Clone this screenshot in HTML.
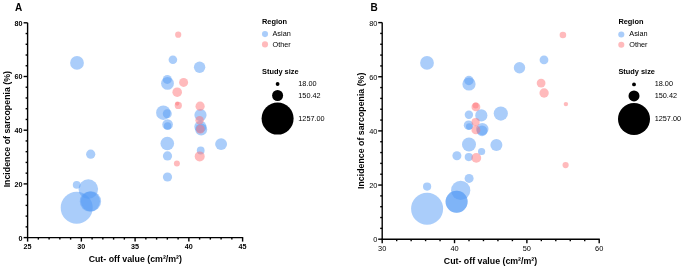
<!DOCTYPE html>
<html><head><meta charset="utf-8"><style>
html,body{margin:0;padding:0;background:#fff;}
body{width:685px;height:269px;overflow:hidden;}
svg{display:block;}
text{font-family:"Liberation Sans",sans-serif;fill:#000;}
svg{will-change:transform;}
.tb{font-size:7.2px;font-weight:bold;}
.tr{font-size:7.4px;}
.lh{font-size:7.4px;font-weight:bold;}
.lt{font-size:7.3px;}
.at{font-size:8.8px;font-weight:bold;}
.pl{font-size:10px;font-weight:bold;}
.ax line{stroke:#000;stroke-width:1.4;}
</style></head><body>
<svg width="685" height="269" viewBox="0 0 685 269">
<text x="14.9" y="10.6" class="pl">A</text>
<text x="370.6" y="10.6" class="pl">B</text>
<g class="ax"><line x1="27.6" y1="22.8" x2="27.6" y2="238.2" />
<line x1="27.0" y1="237.6" x2="243.2" y2="237.6" />
<line x1="23.6" y1="237.60" x2="27.6" y2="237.60" />
<line x1="25.6" y1="226.86" x2="27.6" y2="226.86" />
<line x1="25.6" y1="216.12" x2="27.6" y2="216.12" />
<line x1="25.6" y1="205.38" x2="27.6" y2="205.38" />
<line x1="25.6" y1="194.64" x2="27.6" y2="194.64" />
<line x1="23.6" y1="183.90" x2="27.6" y2="183.90" />
<line x1="25.6" y1="173.16" x2="27.6" y2="173.16" />
<line x1="25.6" y1="162.42" x2="27.6" y2="162.42" />
<line x1="25.6" y1="151.68" x2="27.6" y2="151.68" />
<line x1="25.6" y1="140.94" x2="27.6" y2="140.94" />
<line x1="23.6" y1="130.20" x2="27.6" y2="130.20" />
<line x1="25.6" y1="119.46" x2="27.6" y2="119.46" />
<line x1="25.6" y1="108.72" x2="27.6" y2="108.72" />
<line x1="25.6" y1="97.98" x2="27.6" y2="97.98" />
<line x1="25.6" y1="87.24" x2="27.6" y2="87.24" />
<line x1="23.6" y1="76.50" x2="27.6" y2="76.50" />
<line x1="25.6" y1="65.76" x2="27.6" y2="65.76" />
<line x1="25.6" y1="55.02" x2="27.6" y2="55.02" />
<line x1="25.6" y1="44.28" x2="27.6" y2="44.28" />
<line x1="25.6" y1="33.54" x2="27.6" y2="33.54" />
<line x1="23.6" y1="22.80" x2="27.6" y2="22.80" />
<line x1="27.60" y1="237.6" x2="27.60" y2="241.6" />
<line x1="38.35" y1="237.6" x2="38.35" y2="239.6" />
<line x1="49.10" y1="237.6" x2="49.10" y2="239.6" />
<line x1="59.85" y1="237.6" x2="59.85" y2="239.6" />
<line x1="70.60" y1="237.6" x2="70.60" y2="239.6" />
<line x1="81.35" y1="237.6" x2="81.35" y2="241.6" />
<line x1="92.10" y1="237.6" x2="92.10" y2="239.6" />
<line x1="102.85" y1="237.6" x2="102.85" y2="239.6" />
<line x1="113.60" y1="237.6" x2="113.60" y2="239.6" />
<line x1="124.35" y1="237.6" x2="124.35" y2="239.6" />
<line x1="135.10" y1="237.6" x2="135.10" y2="241.6" />
<line x1="145.85" y1="237.6" x2="145.85" y2="239.6" />
<line x1="156.60" y1="237.6" x2="156.60" y2="239.6" />
<line x1="167.35" y1="237.6" x2="167.35" y2="239.6" />
<line x1="178.10" y1="237.6" x2="178.10" y2="239.6" />
<line x1="188.85" y1="237.6" x2="188.85" y2="241.6" />
<line x1="199.60" y1="237.6" x2="199.60" y2="239.6" />
<line x1="210.35" y1="237.6" x2="210.35" y2="239.6" />
<line x1="221.10" y1="237.6" x2="221.10" y2="239.6" />
<line x1="231.85" y1="237.6" x2="231.85" y2="239.6" />
<line x1="242.60" y1="237.6" x2="242.60" y2="241.6" />
<line x1="382.2" y1="22.6" x2="382.2" y2="239.79999999999998" />
<line x1="381.59999999999997" y1="239.2" x2="599.8000000000001" y2="239.2" />
<line x1="378.2" y1="239.20" x2="382.2" y2="239.20" />
<line x1="380.2" y1="228.37" x2="382.2" y2="228.37" />
<line x1="380.2" y1="217.54" x2="382.2" y2="217.54" />
<line x1="380.2" y1="206.71" x2="382.2" y2="206.71" />
<line x1="380.2" y1="195.88" x2="382.2" y2="195.88" />
<line x1="378.2" y1="185.05" x2="382.2" y2="185.05" />
<line x1="380.2" y1="174.22" x2="382.2" y2="174.22" />
<line x1="380.2" y1="163.39" x2="382.2" y2="163.39" />
<line x1="380.2" y1="152.56" x2="382.2" y2="152.56" />
<line x1="380.2" y1="141.73" x2="382.2" y2="141.73" />
<line x1="378.2" y1="130.90" x2="382.2" y2="130.90" />
<line x1="380.2" y1="120.07" x2="382.2" y2="120.07" />
<line x1="380.2" y1="109.24" x2="382.2" y2="109.24" />
<line x1="380.2" y1="98.41" x2="382.2" y2="98.41" />
<line x1="380.2" y1="87.58" x2="382.2" y2="87.58" />
<line x1="378.2" y1="76.75" x2="382.2" y2="76.75" />
<line x1="380.2" y1="65.92" x2="382.2" y2="65.92" />
<line x1="380.2" y1="55.09" x2="382.2" y2="55.09" />
<line x1="380.2" y1="44.26" x2="382.2" y2="44.26" />
<line x1="380.2" y1="33.43" x2="382.2" y2="33.43" />
<line x1="378.2" y1="22.60" x2="382.2" y2="22.60" />
<line x1="382.20" y1="239.2" x2="382.20" y2="243.2" />
<line x1="396.67" y1="239.2" x2="396.67" y2="241.2" />
<line x1="411.13" y1="239.2" x2="411.13" y2="241.2" />
<line x1="425.60" y1="239.2" x2="425.60" y2="241.2" />
<line x1="440.07" y1="239.2" x2="440.07" y2="241.2" />
<line x1="454.53" y1="239.2" x2="454.53" y2="243.2" />
<line x1="469.00" y1="239.2" x2="469.00" y2="241.2" />
<line x1="483.47" y1="239.2" x2="483.47" y2="241.2" />
<line x1="497.93" y1="239.2" x2="497.93" y2="241.2" />
<line x1="512.40" y1="239.2" x2="512.40" y2="241.2" />
<line x1="526.87" y1="239.2" x2="526.87" y2="243.2" />
<line x1="541.33" y1="239.2" x2="541.33" y2="241.2" />
<line x1="555.80" y1="239.2" x2="555.80" y2="241.2" />
<line x1="570.27" y1="239.2" x2="570.27" y2="241.2" />
<line x1="584.73" y1="239.2" x2="584.73" y2="241.2" />
<line x1="599.20" y1="239.2" x2="599.20" y2="243.2" /></g>
<text x="22.4" y="240.50" text-anchor="end" class="tb">0</text>
<text x="22.4" y="186.80" text-anchor="end" class="tb">20</text>
<text x="22.4" y="133.10" text-anchor="end" class="tb">40</text>
<text x="22.4" y="79.40" text-anchor="end" class="tb">60</text>
<text x="22.4" y="25.70" text-anchor="end" class="tb">80</text>
<text x="27.60" y="249.2" text-anchor="middle" class="tb">25</text>
<text x="81.35" y="249.2" text-anchor="middle" class="tb">30</text>
<text x="135.10" y="249.2" text-anchor="middle" class="tb">35</text>
<text x="188.85" y="249.2" text-anchor="middle" class="tb">40</text>
<text x="242.60" y="249.2" text-anchor="middle" class="tb">45</text>
<text x="377.4" y="242.20" text-anchor="end" class="tr">0</text>
<text x="377.4" y="188.05" text-anchor="end" class="tr">20</text>
<text x="377.4" y="133.90" text-anchor="end" class="tr">40</text>
<text x="377.4" y="79.75" text-anchor="end" class="tr">60</text>
<text x="377.4" y="25.60" text-anchor="end" class="tr">80</text>
<text x="382.20" y="250.8" text-anchor="middle" class="tr">30</text>
<text x="454.53" y="250.8" text-anchor="middle" class="tr">40</text>
<text x="526.87" y="250.8" text-anchor="middle" class="tr">50</text>
<text x="599.20" y="250.8" text-anchor="middle" class="tr">60</text>
<text transform="translate(9.8,129.2) rotate(-90)" text-anchor="middle" class="at">Incidence of sarcopenia (%)</text>
<text transform="translate(364.3,130.8) rotate(-90)" text-anchor="middle" class="at">Incidence of sarcopenia (%)</text>
<text x="135.3" y="261.9" text-anchor="middle" class="at">Cut- off value (cm²/m²)</text>
<text x="490.5" y="263.9" text-anchor="middle" class="at">Cut- off value (cm²/m²)</text>
<circle cx="77.0" cy="62.9" r="6.9" fill="rgba(85,155,245,0.5)"/>
<circle cx="172.9" cy="59.7" r="4.3" fill="rgba(85,155,245,0.5)"/>
<circle cx="199.6" cy="67.2" r="5.7" fill="rgba(85,155,245,0.5)"/>
<circle cx="167.5" cy="83.4" r="6.4" fill="rgba(85,155,245,0.5)"/>
<circle cx="167.3" cy="79.4" r="4.5" fill="rgba(85,155,245,0.5)"/>
<circle cx="163.3" cy="112.7" r="7.2" fill="rgba(85,155,245,0.5)"/>
<circle cx="167.3" cy="113.7" r="4.5" fill="rgba(85,155,245,0.5)"/>
<circle cx="167.6" cy="124.5" r="5.3" fill="rgba(85,155,245,0.5)"/>
<circle cx="167.6" cy="126.0" r="3.8" fill="rgba(85,155,245,0.5)"/>
<circle cx="167.3" cy="143.5" r="6.8" fill="rgba(85,155,245,0.5)"/>
<circle cx="167.5" cy="155.9" r="4.6" fill="rgba(85,155,245,0.5)"/>
<circle cx="167.5" cy="177.0" r="4.6" fill="rgba(85,155,245,0.5)"/>
<circle cx="200.5" cy="115.1" r="6.1" fill="rgba(85,155,245,0.5)"/>
<circle cx="200.4" cy="126.8" r="6.1" fill="rgba(85,155,245,0.5)"/>
<circle cx="201.2" cy="129.6" r="6.0" fill="rgba(85,155,245,0.5)"/>
<circle cx="200.7" cy="150.5" r="3.9" fill="rgba(85,155,245,0.5)"/>
<circle cx="221.1" cy="144.1" r="5.95" fill="rgba(85,155,245,0.5)"/>
<circle cx="90.7" cy="154.2" r="4.6" fill="rgba(85,155,245,0.5)"/>
<circle cx="76.7" cy="184.8" r="3.9" fill="rgba(85,155,245,0.5)"/>
<circle cx="88.3" cy="189.1" r="9.8" fill="rgba(85,155,245,0.5)"/>
<circle cx="76.7" cy="207.8" r="16.0" fill="rgba(85,155,245,0.5)"/>
<circle cx="89.9" cy="201.5" r="10.1" fill="rgba(85,155,245,0.5)"/>
<circle cx="91.0" cy="201.4" r="10.1" fill="rgba(85,155,245,0.5)"/>
<circle cx="178.2" cy="34.7" r="3.1" fill="rgba(255,117,121,0.5)"/>
<circle cx="183.6" cy="82.4" r="4.5" fill="rgba(255,117,121,0.5)"/>
<circle cx="177.2" cy="92.2" r="4.8" fill="rgba(255,117,121,0.5)"/>
<circle cx="178.3" cy="105.4" r="3.6" fill="rgba(255,117,121,0.5)"/>
<circle cx="177.2" cy="103.6" r="2.1" fill="rgba(255,117,121,0.5)"/>
<circle cx="200.1" cy="106.2" r="4.6" fill="rgba(255,117,121,0.5)"/>
<circle cx="199.6" cy="120.3" r="4.2" fill="rgba(255,117,121,0.5)"/>
<circle cx="200.3" cy="129.1" r="4.4" fill="rgba(255,117,121,0.5)"/>
<circle cx="199.7" cy="156.4" r="5.0" fill="rgba(255,117,121,0.5)"/>
<circle cx="176.9" cy="163.6" r="3.0" fill="rgba(255,117,121,0.5)"/>
<circle cx="427.0" cy="62.9" r="6.9" fill="rgba(85,155,245,0.5)"/>
<circle cx="519.5" cy="67.7" r="5.7" fill="rgba(85,155,245,0.5)"/>
<circle cx="544.0" cy="59.9" r="4.4" fill="rgba(85,155,245,0.5)"/>
<circle cx="469.0" cy="84.0" r="6.6" fill="rgba(85,155,245,0.5)"/>
<circle cx="468.9" cy="80.5" r="4.7" fill="rgba(85,155,245,0.5)"/>
<circle cx="468.9" cy="114.8" r="4.2" fill="rgba(85,155,245,0.5)"/>
<circle cx="481.3" cy="115.4" r="6.1" fill="rgba(85,155,245,0.5)"/>
<circle cx="468.6" cy="125.2" r="4.8" fill="rgba(85,155,245,0.5)"/>
<circle cx="469.3" cy="126.5" r="3.3" fill="rgba(85,155,245,0.5)"/>
<circle cx="482.3" cy="129.1" r="6.2" fill="rgba(85,155,245,0.5)"/>
<circle cx="482.0" cy="130.8" r="5.4" fill="rgba(85,155,245,0.5)"/>
<circle cx="500.8" cy="113.6" r="7.1" fill="rgba(85,155,245,0.5)"/>
<circle cx="469.0" cy="144.5" r="7.0" fill="rgba(85,155,245,0.5)"/>
<circle cx="496.4" cy="144.9" r="6.0" fill="rgba(85,155,245,0.5)"/>
<circle cx="481.6" cy="151.5" r="3.6" fill="rgba(85,155,245,0.5)"/>
<circle cx="456.9" cy="155.7" r="4.5" fill="rgba(85,155,245,0.5)"/>
<circle cx="468.8" cy="157.1" r="4.1" fill="rgba(85,155,245,0.5)"/>
<circle cx="469.1" cy="178.4" r="4.5" fill="rgba(85,155,245,0.5)"/>
<circle cx="427.1" cy="186.6" r="4.1" fill="rgba(85,155,245,0.5)"/>
<circle cx="460.7" cy="190.4" r="9.6" fill="rgba(85,155,245,0.5)"/>
<circle cx="427.1" cy="208.8" r="16.0" fill="rgba(85,155,245,0.5)"/>
<circle cx="456.6" cy="201.8" r="11.0" fill="rgba(85,155,245,0.5)"/>
<circle cx="456.6" cy="201.8" r="11.0" fill="rgba(85,155,245,0.5)"/>
<circle cx="562.9" cy="35.0" r="3.3" fill="rgba(255,117,121,0.5)"/>
<circle cx="541.1" cy="83.1" r="4.4" fill="rgba(255,117,121,0.5)"/>
<circle cx="544.1" cy="93.0" r="4.65" fill="rgba(255,117,121,0.5)"/>
<circle cx="565.9" cy="104.1" r="2.2" fill="rgba(255,117,121,0.5)"/>
<circle cx="475.9" cy="106.9" r="4.4" fill="rgba(255,117,121,0.5)"/>
<circle cx="475.6" cy="105.5" r="3.0" fill="rgba(255,117,121,0.5)"/>
<circle cx="475.6" cy="122.1" r="4.1" fill="rgba(255,117,121,0.5)"/>
<circle cx="475.9" cy="129.9" r="4.45" fill="rgba(255,117,121,0.5)"/>
<circle cx="476.3" cy="157.9" r="4.9" fill="rgba(255,117,121,0.5)"/>
<circle cx="565.6" cy="165.1" r="3.1" fill="rgba(255,117,121,0.5)"/>

<text x="262.0" y="24.2" class="lh">Region</text>
<circle cx="265.0" cy="34.1" r="3.05" fill="rgba(85,155,245,0.5)"/>
<circle cx="265.0" cy="44.4" r="3.05" fill="rgba(255,117,121,0.5)"/>
<text x="272.5" y="36.3" class="lt">Asian</text>
<text x="272.5" y="46.5" class="lt">Other</text>
<text x="262.0" y="73.9" class="lh">Study size</text>
<circle cx="277.6" cy="84.0" r="1.9" fill="#000"/>
<circle cx="277.6" cy="95.5" r="5.5" fill="#000"/>
<circle cx="277.6" cy="118.6" r="16.0" fill="#000"/>
<text x="298.3" y="86.2" class="lt">18.00</text>
<text x="298.3" y="97.7" class="lt">150.42</text>
<text x="298.3" y="121.0" class="lt">1257.00</text>


<text x="618.4" y="24.2" class="lh">Region</text>
<circle cx="621.3" cy="34.5" r="3.05" fill="rgba(85,155,245,0.5)"/>
<circle cx="621.3" cy="44.8" r="3.05" fill="rgba(255,117,121,0.5)"/>
<text x="629.3" y="36.3" class="lt">Asian</text>
<text x="629.3" y="46.5" class="lt">Other</text>
<text x="618.4" y="73.9" class="lh">Study size</text>
<circle cx="634.0" cy="84.4" r="1.9" fill="#000"/>
<circle cx="634.0" cy="95.9" r="5.5" fill="#000"/>
<circle cx="634.0" cy="119.0" r="16.0" fill="#000"/>
<text x="654.6999999999999" y="86.2" class="lt">18.00</text>
<text x="654.6999999999999" y="97.7" class="lt">150.42</text>
<text x="654.6999999999999" y="121.0" class="lt">1257.00</text>

</svg>
</body></html>
